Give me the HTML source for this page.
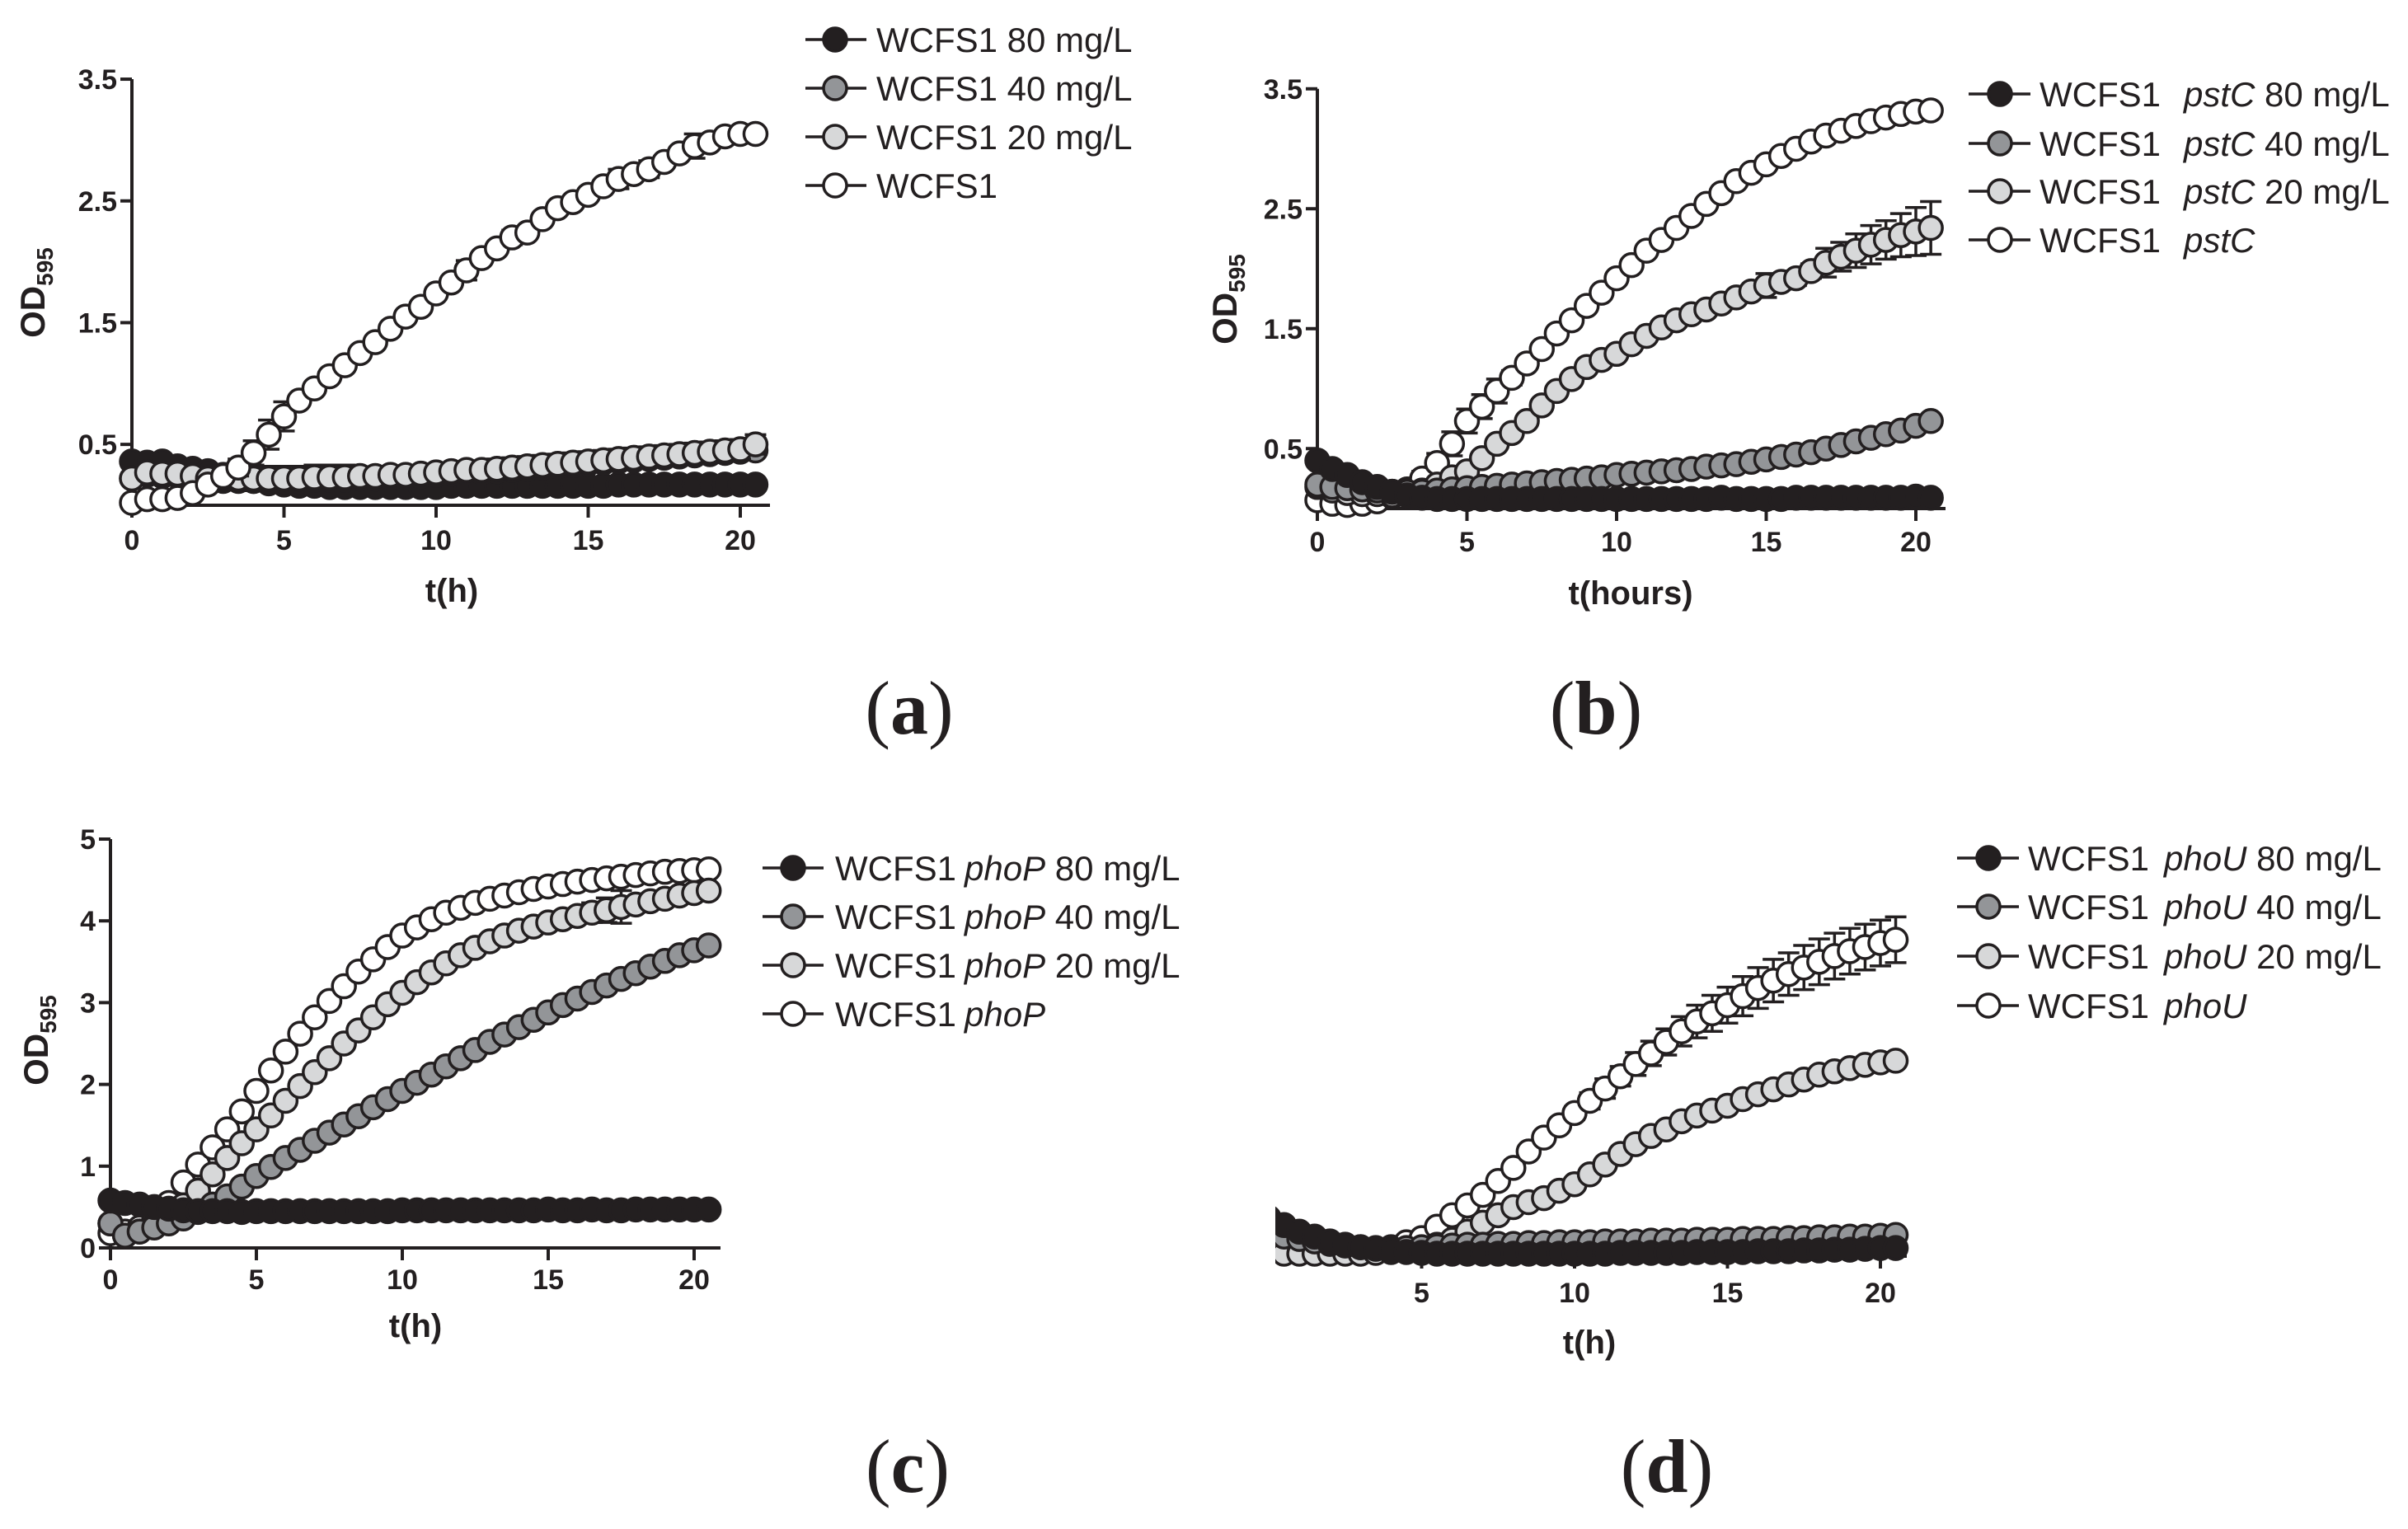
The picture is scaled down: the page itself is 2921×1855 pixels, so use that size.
<!DOCTYPE html>
<html><head><meta charset="utf-8">
<style>
html,body{margin:0;padding:0;background:#fff;}
svg{display:block;}
text{font-family:"Liberation Sans",Arial,sans-serif;fill:#231f20;}
.tick{font-weight:bold;font-size:34px;}
.ttl{font-weight:bold;font-size:40px;}
.leg{font-size:42px;}
.plab{font-family:"Liberation Serif",serif;font-size:92px;}
</style></head>
<body>
<svg id="fig" width="2921" height="1855" viewBox="0 0 2921 1855" xmlns="http://www.w3.org/2000/svg">
<defs>
<clipPath id="clipD"><rect x="1547" y="900" width="1374" height="955"/></clipPath>
</defs>
</svg>
<script>
// ---------- shared categories ----------
const times = [0,0.5,1,1.5,2,2.5,3,3.5,4,4.5,5,5.5,6,6.5,7,7.5,8,8.5,9,9.5,10,10.5,11,11.5,12,12.5,13,13.5,14,14.5,15,15.5,16,16.5,17,17.5,18,18.5,19,19.5,20,20.5];
const xTicks = [0,5,10,15,20];
const yTicksA = [0.5,1.5,2.5,3.5];
const yTicksB = [0.5,1.5,2.5,3.5];
const yTicksC = [0,1,2,3,4,5];

// ---------- panel (a) ----------
const a80 = [0.36,0.35,0.36,0.32,0.30,0.28,0.25,0.22,0.20,0.18,0.17,0.16,0.16,0.15,0.15,0.15,0.15,0.15,0.15,0.15,0.15,0.16,0.16,0.16,0.16,0.16,0.16,0.16,0.16,0.16,0.16,0.16,0.17,0.17,0.17,0.17,0.17,0.17,0.17,0.17,0.17,0.17];
const a40 = [0.22,0.25,0.24,0.24,0.22,0.21,0.20,0.20,0.20,0.20,0.20,0.20,0.21,0.21,0.21,0.22,0.22,0.23,0.23,0.24,0.25,0.26,0.27,0.27,0.28,0.29,0.30,0.31,0.32,0.33,0.34,0.35,0.36,0.37,0.38,0.39,0.40,0.41,0.42,0.43,0.44,0.45];
const a20 = [0.22,0.27,0.26,0.26,0.24,0.22,0.22,0.22,0.22,0.22,0.22,0.22,0.23,0.23,0.23,0.24,0.24,0.25,0.25,0.26,0.27,0.28,0.29,0.29,0.30,0.31,0.32,0.33,0.34,0.35,0.36,0.37,0.38,0.39,0.40,0.41,0.42,0.43,0.44,0.45,0.46,0.50];
const a0  = [0.02,0.05,0.05,0.06,0.10,0.17,0.24,0.31,0.43,0.58,0.73,0.86,0.96,1.06,1.15,1.25,1.34,1.45,1.55,1.63,1.74,1.83,1.93,2.03,2.11,2.20,2.24,2.35,2.44,2.49,2.55,2.62,2.68,2.72,2.76,2.82,2.89,2.95,2.98,3.03,3.05,3.05];
const a0err = [0,0,0,0,0,0,0,0.07,0.1,0.12,0.12,0,0,0,0,0,0,0,0,0,0,0,0.08,0,0,0.06,0,0,0,0,0,0,0.08,0,0.07,0,0,0.1,0,0,0,0];
const a20err = [0,0,0,0,0,0.05,0.06,0.08,0.1,0.1,0.1,0.1,0.1,0.1,0.1,0,0,0,0,0,0,0,0,0,0.08,0.08,0.08,0.08,0.08,0.08,0.08,0.08,0.08,0.08,0.08,0.08,0.08,0.08,0.08,0.08,0.08,0.08];

// ---------- panel (b) ----------
const b80 = [0.40,0.33,0.28,0.22,0.18,0.14,0.11,0.09,0.08,0.08,0.08,0.08,0.08,0.08,0.08,0.08,0.08,0.08,0.08,0.08,0.08,0.08,0.08,0.08,0.08,0.08,0.08,0.09,0.08,0.08,0.08,0.08,0.09,0.09,0.09,0.09,0.09,0.09,0.09,0.09,0.10,0.09];
const b40 = [0.20,0.18,0.17,0.16,0.15,0.14,0.14,0.14,0.15,0.16,0.17,0.18,0.19,0.20,0.21,0.22,0.23,0.24,0.25,0.26,0.28,0.29,0.30,0.31,0.32,0.33,0.35,0.36,0.37,0.39,0.41,0.43,0.45,0.47,0.50,0.53,0.56,0.59,0.62,0.65,0.69,0.73];
const b20 = [0.18,0.15,0.13,0.12,0.12,0.11,0.12,0.15,0.20,0.26,0.31,0.42,0.54,0.63,0.73,0.86,0.98,1.08,1.18,1.24,1.29,1.37,1.44,1.51,1.57,1.62,1.66,1.71,1.76,1.81,1.86,1.89,1.92,1.98,2.05,2.10,2.15,2.20,2.24,2.28,2.31,2.34];
const b0  = [0.07,0.04,0.03,0.04,0.06,0.10,0.16,0.25,0.38,0.54,0.73,0.85,0.98,1.09,1.21,1.33,1.46,1.57,1.69,1.80,1.92,2.03,2.15,2.24,2.34,2.44,2.54,2.63,2.73,2.80,2.87,2.94,3.00,3.06,3.11,3.15,3.19,3.23,3.26,3.29,3.31,3.32];
const b0err = [0,0,0,0,0,0,0,0.06,0.08,0.1,0.1,0.1,0.1,0.06,0,0,0,0,0,0,0,0,0,0,0,0,0,0,0,0,0,0,0,0,0,0,0,0,0,0,0,0];
const b20err = [0,0,0,0,0,0,0,0,0,0,0,0,0,0,0,0,0,0,0,0,0,0,0,0,0,0,0,0,0,0,0.1,0.06,0.06,0.06,0.12,0.12,0.14,0.16,0.16,0.18,0.2,0.22];

// ---------- panel (c) ----------
const c80 = [0.58,0.55,0.53,0.50,0.48,0.46,0.45,0.45,0.45,0.44,0.45,0.45,0.45,0.45,0.45,0.45,0.45,0.45,0.45,0.45,0.46,0.46,0.46,0.46,0.46,0.46,0.46,0.46,0.46,0.46,0.47,0.46,0.46,0.47,0.46,0.46,0.47,0.47,0.47,0.47,0.47,0.47];
const c40 = [0.30,0.15,0.20,0.25,0.30,0.36,0.44,0.53,0.63,0.75,0.88,0.99,1.10,1.20,1.31,1.41,1.51,1.61,1.72,1.82,1.92,2.02,2.12,2.22,2.32,2.42,2.52,2.61,2.70,2.79,2.88,2.97,3.05,3.13,3.21,3.29,3.36,3.44,3.51,3.58,3.64,3.70];
const c20 = [0.30,0.15,0.20,0.28,0.38,0.52,0.70,0.90,1.10,1.28,1.45,1.62,1.80,1.98,2.15,2.32,2.50,2.66,2.82,2.98,3.12,3.25,3.37,3.48,3.58,3.67,3.75,3.82,3.88,3.93,3.98,4.02,4.06,4.10,4.13,4.17,4.20,4.24,4.27,4.31,4.34,4.37];
const c0  = [0.18,0.20,0.25,0.35,0.55,0.80,1.02,1.23,1.45,1.67,1.92,2.17,2.40,2.62,2.82,3.02,3.20,3.38,3.53,3.68,3.82,3.92,4.02,4.10,4.16,4.22,4.27,4.31,4.35,4.39,4.42,4.45,4.48,4.50,4.52,4.54,4.56,4.58,4.60,4.61,4.62,4.63];
const c20err = [0,0,0,0,0,0,0,0,0,0,0,0,0,0,0,0,0,0,0,0,0,0,0,0,0,0,0,0,0,0,0,0,0,0.12,0.15,0.2,0,0,0,0,0,0];

// ---------- panel (d) ----------
const d80 = [0.47,0.38,0.30,0.24,0.18,0.14,0.11,0.09,0.07,0.05,0.04,0.03,0.03,0.03,0.03,0.03,0.03,0.03,0.03,0.03,0.03,0.03,0.03,0.04,0.04,0.04,0.04,0.04,0.05,0.05,0.05,0.05,0.06,0.06,0.06,0.07,0.07,0.08,0.08,0.09,0.10,0.10];
const d40 = [0.27,0.24,0.21,0.18,0.15,0.13,0.11,0.10,0.10,0.10,0.11,0.12,0.13,0.14,0.14,0.15,0.15,0.16,0.16,0.17,0.17,0.17,0.18,0.18,0.18,0.19,0.19,0.19,0.20,0.20,0.20,0.21,0.21,0.21,0.22,0.22,0.23,0.23,0.24,0.24,0.25,0.26];
const d20 = [0.05,0.03,0.03,0.03,0.03,0.03,0.03,0.04,0.05,0.07,0.10,0.14,0.20,0.30,0.41,0.50,0.60,0.66,0.71,0.80,0.88,1.00,1.12,1.25,1.37,1.47,1.55,1.65,1.72,1.78,1.84,1.92,1.98,2.04,2.10,2.16,2.22,2.26,2.30,2.34,2.37,2.39];
const d0  = [0.06,0.05,0.05,0.05,0.05,0.05,0.05,0.07,0.11,0.17,0.22,0.36,0.50,0.62,0.75,0.92,1.08,1.28,1.45,1.60,1.75,1.90,2.05,2.20,2.35,2.48,2.62,2.75,2.87,2.97,3.07,3.18,3.28,3.37,3.45,3.53,3.60,3.67,3.73,3.78,3.83,3.87];
const d0err = [0,0,0,0,0,0,0,0,0,0,0,0,0,0,0,0,0,0,0,0,0.08,0.1,0.12,0.12,0.14,0.15,0.16,0.18,0.2,0.22,0.22,0.24,0.25,0.26,0.26,0.27,0.28,0.28,0.28,0.28,0.28,0.28];

// ---------- rendering ----------
const NS = "http://www.w3.org/2000/svg";
const svg = document.getElementById('fig');
const INK = "#231f20";
const FILLS = {k80:"#231f20", k40:"#939598", k20:"#d7d8d9", k0:"#ffffff"};
const R = 14;

function mk(tag, parent, attrs){
  const e = document.createElementNS(NS, tag);
  for (const k in attrs) e.setAttribute(k, attrs[k]);
  parent.appendChild(e);
  return e;
}

function panel(cfg){
  const g = mk('g', svg, cfg.clip ? {'clip-path':'url(#'+cfg.clip+')'} : {});
  
  
  const xs = t => cfg.x0 + t * cfg.pxH;
  const ys = v => cfg.y0 - v * cfg.pxU;

  const xa = mk('line', g, {x1:cfg.x0, y1:cfg.y0, x2:cfg.xEnd, y2:cfg.y0, stroke:INK, 'stroke-width':4});
  
  
  if (cfg.yTicks){
    const top = ys(cfg.yTicks[cfg.yTicks.length-1]);
    const ya = mk('line', g, {x1:cfg.x0, y1:top, x2:cfg.x0, y2:cfg.y0+2, stroke:INK, 'stroke-width':4});
    
    
    cfg.yTicks.forEach(v => {
      mk('line', g, {x1:cfg.x0-14, y1:ys(v), x2:cfg.x0, y2:ys(v), stroke:INK, 'stroke-width':4});
      const tl = mk('text', g, {x:cfg.x0-18, y:ys(v)+12, 'text-anchor':'end', class:'tick'});
      tl.textContent = String(v);
      
      
    });
    const yl = mk('text', g, {transform:'translate('+cfg.yLab[0]+','+cfg.yLab[1]+') rotate(-90)', 'text-anchor':'middle', 'font-weight':'bold', 'font-size':'42'});
    
    
    const t1 = mk('tspan', yl, {}); t1.textContent = 'OD';
    const t2 = mk('tspan', yl, {'font-size':'28', dy:'10'}); t2.textContent = '595';
  }
  xTicks.forEach(t => {
    mk('line', g, {x1:xs(t), y1:cfg.y0, x2:xs(t), y2:cfg.y0+15, stroke:INK, 'stroke-width':4});
    const tl = mk('text', g, {x:xs(t), y:cfg.xTickY, 'text-anchor':'middle', class:'tick'});
    tl.textContent = String(t);
    
    
  });
  const xt = mk('text', g, {x:cfg.xTitle[0], y:cfg.xTitle[1], 'text-anchor':'middle', class:'ttl'});
  xt.textContent = cfg.xTitleText;
  
  

  cfg.series.forEach(s => {
    const sg = mk('g', g, {});
    
    
    if (s.err){
      s.vals.forEach((v,i) => {
        const e = s.err[i]; if (!e) return;
        const cx = xs(times[i]);
        mk('line', sg, {x1:cx, y1:ys(v-e), x2:cx, y2:ys(v+e), stroke:INK, 'stroke-width':3.5});
        mk('line', sg, {x1:cx-13, y1:ys(v+e), x2:cx+13, y2:ys(v+e), stroke:INK, 'stroke-width':3.5});
        mk('line', sg, {x1:cx-13, y1:ys(v-e), x2:cx+13, y2:ys(v-e), stroke:INK, 'stroke-width':3.5});
      });
    }
    s.vals.forEach((v,i) => {
      const c = mk('circle', sg, {cx:xs(times[i]), cy:ys(v), r:R, fill:FILLS[s.key], stroke:INK, 'stroke-width':3.5});
      
      
    });
  });

  const lg = mk('g', svg, {});
  
  
  cfg.legend.rows.forEach((r,i) => {
    const L = cfg.legend;
    const eg = mk('g', lg, {});
    
    
    mk('line', eg, {x1:L.x1, y1:L.ys[i], x2:L.x2, y2:L.ys[i], stroke:INK, 'stroke-width':3.5});
    mk('circle', eg, {cx:L.cx, cy:L.ys[i], r:R, fill:FILLS[r.key], stroke:INK, 'stroke-width':3.5});
    const tx = mk('text', eg, {x:L.tx, y:L.ys[i]+15, class:'leg'});
    const a = mk('tspan', tx, {}); a.textContent = 'WCFS1';
    if (L.gene){
      const b = mk('tspan', tx, {x:L.gx, 'font-style':'italic'}); b.textContent = L.gene;
    }
    if (r.conc){
      const c = mk('tspan', tx, {}); c.textContent = ' ' + r.conc;
    }
  });

  const pl = mk('text', svg, {x:cfg.plab[0], y:cfg.plab[1], 'text-anchor':'middle', class:'plab'});
  
  
  const p1 = mk('tspan', pl, {}); p1.textContent = '(';
  const p2 = mk('tspan', pl, {'font-weight':'bold'}); p2.textContent = cfg.id;
  const p3 = mk('tspan', pl, {}); p3.textContent = ')';
}

const legRows = [{key:'k80',conc:'80 mg/L'},{key:'k40',conc:'40 mg/L'},{key:'k20',conc:'20 mg/L'},{key:'k0',conc:''}];

panel({id:'a', x0:160, pxH:36.9, y0:613, pxU:147.7, xEnd:934, yTicks:yTicksA, yLab:[54,355],
  xTickY:667, xTitle:[548,730], xTitleText:'t(h)', plab:[1103,890],
  series:[{name:'80',key:'k80',vals:a80},{name:'40',key:'k40',vals:a40},{name:'20',key:'k20',vals:a20,err:a20err},{name:'ctrl',key:'k0',vals:a0,err:a0err}],
  legend:{x1:977,x2:1051,cx:1013,tx:1063,ys:[48,107,166,225],rows:legRows}});

panel({id:'b', x0:1598, pxH:36.3, y0:617, pxU:145.5, xEnd:2360, yTicks:yTicksB, yLab:[1500,363],
  xTickY:669, xTitle:[1978,733], xTitleText:'t(hours)', plab:[1936,890],
  series:[{name:'ctrl',key:'k0',vals:b0,err:b0err},{name:'20',key:'k20',vals:b20,err:b20err},{name:'40',key:'k40',vals:b40},{name:'80',key:'k80',vals:b80}],
  legend:{x1:2388,x2:2463,cx:2426,tx:2474,gx:2649,gene:'pstC',ys:[114,174,232,291],rows:legRows}});

panel({id:'c', x0:134, pxH:35.4, y0:1514, pxU:99.2, xEnd:874, yTicks:yTicksC, yLab:[58,1262],
  xTickY:1564, xTitle:[504,1622], xTitleText:'t(h)', plab:[1101,1810],
  series:[{name:'ctrl',key:'k0',vals:c0},{name:'20',key:'k20',vals:c20,err:c20err},{name:'40',key:'k40',vals:c40},{name:'80',key:'k80',vals:c80}],
  legend:{x1:925,x2:999,cx:962,tx:1013,gx:1170,gene:'phoP',ys:[1053,1112,1171,1230],rows:legRows}});

panel({id:'d', x0:1539, pxH:37.1, y0:1524, pxU:99.2, xEnd:2313, yTicks:null, clip:'clipD',
  xTickY:1580, xTitle:[1928,1642], xTitleText:'t(h)', plab:[2022,1810],
  series:[{name:'ctrl',key:'k0',vals:d0,err:d0err},{name:'20',key:'k20',vals:d20},{name:'40',key:'k40',vals:d40},{name:'80',key:'k80',vals:d80}],
  legend:{x1:2374,x2:2449,cx:2412,tx:2460,gx:2625,gene:'phoU',ys:[1041,1100,1160,1220],rows:legRows}});
</script>
</body></html>
